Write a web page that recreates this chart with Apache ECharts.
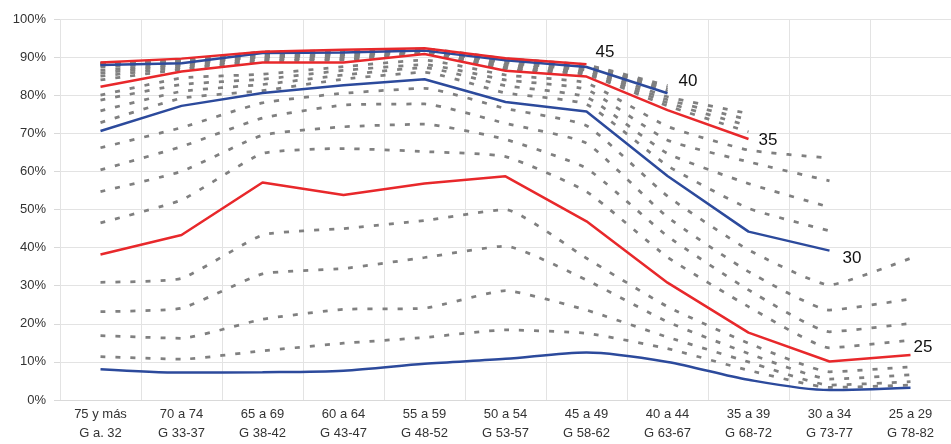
<!DOCTYPE html>
<html>
<head>
<meta charset="utf-8">
<script src="https://cdn.jsdelivr.net/npm/echarts@6/dist/echarts.min.js"></script>
<style>
  html, body { margin: 0; padding: 0; background: #fff; }
  #chart { width: 951px; height: 444px; }
</style>
</head>
<body>
<div id="chart"></div>
<script>
// age groups / generations on the x axis
const categorias = ['75 y más\nG a. 32', '70 a 74\nG 33-37', '65 a 69\nG 38-42', '60 a 64\nG 43-47',
  '55 a 59\nG 48-52', '50 a 54\nG 53-57', '45 a 49\nG 58-62', '40 a 44\nG 63-67',
  '35 a 39\nG 68-72', '30 a 34\nG 73-77', '25 a 29\nG 78-82'];

// activity rate (%) at each single age
const edad20 = [8.1, 7.2, 7.3, 7.7, 9.5, 10.8, 12.5, 10.0, 5.3, 2.6, 3.2];
const edad21 = [11.4, 10.7, 12.9, 14.9, 16.4, 18.4, 17.5, 13.5, 7.8, 3.3, 3.9];
const edad22 = [16.9, 16.2, 21.2, 23.8, 24.1, 28.7, 23.6, 16.5, 10.0, 3.9, 4.8];
const edad23 = [23.2, 24.1, 33.1, 34.5, 37.4, 40.4, 31.5, 20.5, 12.2, 5.5, 6.6];
const edad24 = [30.9, 31.9, 43.3, 45.0, 47.1, 50.0, 37.2, 24.5, 14.9, 7.4, 8.7];
const edad25 = [38.2, 43.3, 57.1, 53.8, 56.8, 58.7, 46.9, 30.8, 17.7, 10.1, 11.8];
const edad26 = [46.5, 52.5, 64.7, 66.0, 65.2, 63.9, 54.7, 37.5, 24.5, 13.7, 15.7];
const edad27 = [54.7, 60.0, 69.5, 71.7, 72.4, 68.4, 60.8, 43.0, 28.9, 17.9, 20.1];
const edad28 = [60.4, 66.5, 74.0, 77.4, 77.7, 72.6, 67.4, 48.0, 33.7, 23.6, 26.5];
const edad29 = [66.2, 71.5, 78.0, 80.5, 81.8, 76.5, 72.0, 53.5, 39.4, 30.2, 37.2];
const edad30 = [70.6, 77.2, 80.6, 82.6, 84.2, 78.2, 75.7, 58.8, 44.2, 39.2];
const edad31 = [72.8, 79.2, 81.2, 84.2, 86.0, 80.6, 77.6, 61.5, 50.3, 44.4];
const edad32 = [75.9, 81.0, 82.8, 85.3, 87.2, 82.5, 79.5, 64.7, 56.8, 50.6];
const edad33 = [78.7, 82.8, 84.2, 86.5, 88.0, 84.0, 81.5, 68.2, 62.5, 57.5];
const edad34 = [80.0, 84.5, 85.5, 87.5, 89.2, 85.3, 83.2, 71.8, 65.6, 63.5];
const edad35 = [82.2, 86.2, 88.6, 88.6, 90.8, 86.4, 84.9, 76.1, 68.5];
const edad36 = [84.0, 86.8, 89.0, 89.3, 91.0, 86.8, 85.4, 77.2, 70.4];
const edad37 = [85.0, 87.3, 89.5, 89.7, 91.2, 87.2, 85.9, 78.0, 72.0];
const edad38 = [85.8, 87.8, 90.0, 90.1, 91.4, 87.7, 86.4, 78.8, 73.6];
const edad39 = [86.5, 88.1, 90.4, 90.6, 91.5, 88.2, 86.9, 79.6, 75.2];
const edad40 = [87.9, 88.4, 91.1, 91.2, 91.7, 89.2, 87.4, 80.5];
const edad41 = [88.0, 88.6, 91.2, 91.4, 91.8, 89.3, 87.6, 81.0];
const edad42 = [88.2, 88.8, 91.2, 91.5, 91.9, 89.4, 87.7, 81.5];
const edad43 = [88.3, 89.0, 91.3, 91.6, 92.0, 89.5, 87.8, 82.0];
const edad44 = [88.4, 89.2, 91.3, 91.7, 92.1, 89.6, 87.9, 82.5];
const edad45 = [88.6, 89.6, 91.4, 91.9, 92.3, 89.7, 88.1];
const edad46 = [88.4, 89.3, 91.0, 91.5, 92.0, 89.4, 87.6];
const edad47 = [88.2, 89.0, 90.7, 91.3, 91.8, 89.2, 87.4];
const edad48 = [87.8, 88.7, 90.4, 91.0, 91.6, 89.0, 87.0];
const edad49 = [87.4, 88.4, 90.0, 90.6, 91.3, 88.6, 86.6];

const AZUL = '#2c4a9c';
const ROJO = '#e8282b';
const GRIS = '#808080';

// labelled ages get a solid line on top, the rest are dashed grey underneath
function solida(datos, color, etiqueta, offset, smooth) {
  return {
    type: 'line', data: datos, symbol: 'none', smooth: smooth || false, z: 3,
    lineStyle: { color: color, width: 2.5 },
    endLabel: etiqueta ? {
      show: true, formatter: etiqueta, offset: offset,
      fontFamily: 'Liberation Sans, Arial, sans-serif', fontSize: 17, color: '#111'
    } : { show: false }
  };
}

function punteada(datos) {
  return {
    type: 'line', data: datos, symbol: 'none', smooth: 0.15, z: 2,
    lineStyle: { color: GRIS, width: 2.75, type: [5, 10] }
  };
}

const series = [
  punteada(edad21), punteada(edad22), punteada(edad23), punteada(edad24),
  punteada(edad26), punteada(edad27), punteada(edad28), punteada(edad29),
  punteada(edad31), punteada(edad32), punteada(edad33), punteada(edad34),
  punteada(edad36), punteada(edad37), punteada(edad38), punteada(edad39),
  punteada(edad41), punteada(edad42), punteada(edad43), punteada(edad44),
  punteada(edad46), punteada(edad47), punteada(edad48), punteada(edad49),
  solida(edad20, AZUL, null, null, 0.3),
  solida(edad25, ROJO, '25', [-5, -8]),
  solida(edad30, AZUL, '30', [5, 8]),
  solida(edad35, ROJO, '35', [2, 1]),
  solida(edad40, AZUL, '40', [3, -12]),
  solida(edad45, ROJO, '45', [1, -12])
];

const chart = echarts.init(document.getElementById('chart'), null, { renderer: 'canvas' });
chart.setOption({
  animation: false,
  backgroundColor: '#fff',
  grid: { left: 60, top: 19, width: 900, height: 381, containLabel: false },
  xAxis: {
    type: 'category',
    data: categorias,
    boundaryGap: true,
    axisLine: { lineStyle: { color: '#d9d9d9' } },
    axisTick: { show: false },
    splitLine: { show: true, interval: 0, lineStyle: { color: '#e3e3e3' } },
    axisLabel: {
      interval: 0, margin: 5, lineHeight: 19,
      fontFamily: 'Liberation Sans, Arial, sans-serif', fontSize: 13, color: '#333'
    }
  },
  yAxis: {
    type: 'value', min: 0, max: 100, interval: 10,
    axisLine: { show: false },
    axisTick: { show: true, length: 6, lineStyle: { color: '#d9d9d9' } },
    splitLine: { lineStyle: { color: '#e3e3e3' } },
    axisLabel: {
      formatter: '{value}%', margin: 14,
      fontFamily: 'Liberation Sans, Arial, sans-serif', fontSize: 13, color: '#333'
    }
  },
  series: series
});
</script>
</body>
</html>
